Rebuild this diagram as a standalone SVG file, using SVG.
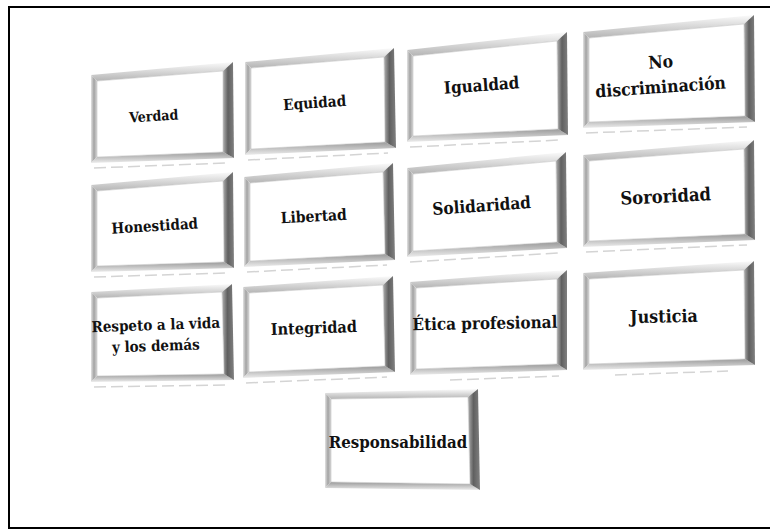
<svg xmlns="http://www.w3.org/2000/svg" width="770" height="529" viewBox="0 0 770 529">
<defs>
<linearGradient id="gTop" x1="0" y1="0" x2="0" y2="1"><stop offset="0" stop-color="#fbfbfb"/><stop offset="1" stop-color="#b4b4b4"/></linearGradient>
<linearGradient id="gLeft" x1="0" y1="0" x2="1" y2="0"><stop offset="0" stop-color="#e2e2e2"/><stop offset="0.5" stop-color="#a2a2a2"/><stop offset="1" stop-color="#d6d6d6"/></linearGradient>
<linearGradient id="gBottom" x1="0" y1="0" x2="0" y2="1"><stop offset="0" stop-color="#9a9a9a"/><stop offset="1" stop-color="#ececec"/></linearGradient>
<linearGradient id="gRight" x1="0" y1="0" x2="1" y2="0"><stop offset="0" stop-color="#b0b0b0"/><stop offset="0.45" stop-color="#606060"/><stop offset="1" stop-color="#808080"/></linearGradient>
</defs>
<style>
.t{fill:url(#gTop)}.l{fill:url(#gLeft)}.b{fill:url(#gBottom)}.r{fill:url(#gRight)}
.in{fill:#ffffff;stroke:#c4c4c4;stroke-width:0.6}
.rf{stroke:#d4d4d4;stroke-width:1.5;stroke-dasharray:12 5;fill:none}
.lbl{font-family:"DejaVu Serif Condensed","DejaVu Serif",serif;font-stretch:condensed;font-weight:bold;fill:#111;text-anchor:middle}
.frame{fill:none;stroke:#000;stroke-width:2}
</style>
<rect width="770" height="529" fill="#ffffff"/>
<path class="frame" d="M770,7 H9 V528 H770"/>
<g id="connectors"/>

<g id="n-verdad">
<polygon class="t" points="91,75 233,62 223,71 97,81"/>
<polygon class="l" points="91,75 97,81 97,157 91,163"/>
<polygon class="b" points="97,157 223,152 234,158 91,163"/>
<polygon class="r" points="223,71 233,62 234,158 223,152"/>
<polygon class="in" points="97,81 223,71 223,152 97,157"/>
<line class="rf" x1="94" y1="168" x2="226" y2="163"/>
<text class="lbl" x="154" y="121" font-size="14.1" transform="rotate(-3.5 154 121)">Verdad</text>
</g>

<g id="n-equidad">
<polygon class="t" points="245,62 394,48 384,57 251,68"/>
<polygon class="l" points="245,62 251,68 251,149 245,155"/>
<polygon class="b" points="251,149 385,142 396,148 245,155"/>
<polygon class="r" points="384,57 394,48 396,148 385,142"/>
<polygon class="in" points="251,68 384,57 385,142 251,149"/>
<line class="rf" x1="248" y1="160" x2="388" y2="153"/>
<text class="lbl" x="315" y="108" font-size="15.2" transform="rotate(-4 315 108)">Equidad</text>
</g>

<g id="n-igualdad">
<polygon class="t" points="407,50 567,32 557,41 413,56"/>
<polygon class="l" points="407,50 413,56 413,136 407,142"/>
<polygon class="b" points="413,136 558,129 568,135 407,142"/>
<polygon class="r" points="557,41 567,32 568,135 558,129"/>
<polygon class="in" points="413,56 557,41 558,129 413,136"/>
<line class="rf" x1="410" y1="147" x2="560" y2="140"/>
<text class="lbl" x="482" y="91" font-size="16.9" transform="rotate(-4 482 91)">Igualdad</text>
</g>

<g id="n-no-discriminacion">
<polygon class="t" points="583,32 754,15 744,24 589,38"/>
<polygon class="l" points="583,32 589,38 589,122 583,128"/>
<polygon class="b" points="589,122 745,116 755,122 583,128"/>
<polygon class="r" points="744,24 754,15 755,122 745,116"/>
<polygon class="in" points="589,38 744,24 745,116 589,122"/>
<line class="rf" x1="586" y1="133" x2="747" y2="127"/>
<text class="lbl" x="661" y="68" font-size="17.4" transform="rotate(-4 661 68)">No</text>
<text class="lbl" x="661" y="93" font-size="17.4" transform="rotate(-4 661 93)">discriminación</text>
</g>

<g id="n-honestidad">
<polygon class="t" points="91,185 233,172 223,181 97,191"/>
<polygon class="l" points="91,185 97,191 97,266 91,272"/>
<polygon class="b" points="97,266 224,262 234,268 91,272"/>
<polygon class="r" points="223,181 233,172 234,268 224,262"/>
<polygon class="in" points="97,191 223,181 224,262 97,266"/>
<line class="rf" x1="94" y1="277" x2="226" y2="273"/>
<text class="lbl" x="155" y="231" font-size="15" transform="rotate(-3.5 155 231)">Honestidad</text>
</g>

<g id="n-libertad">
<polygon class="t" points="244,177 393,163 383,172 250,183"/>
<polygon class="l" points="244,177 250,183 250,261 244,267"/>
<polygon class="b" points="250,261 385,254 395,260 244,267"/>
<polygon class="r" points="383,172 393,163 395,260 385,254"/>
<polygon class="in" points="250,183 383,172 385,254 250,261"/>
<line class="rf" x1="247" y1="272" x2="387" y2="265"/>
<text class="lbl" x="314" y="221.5" font-size="15.5" transform="rotate(-3 314 221.5)">Libertad</text>
</g>

<g id="n-solidaridad">
<polygon class="t" points="407,168 566,152 556,161 413,174"/>
<polygon class="l" points="407,168 413,174 413,251 407,257"/>
<polygon class="b" points="413,251 557,242 567,248 407,257"/>
<polygon class="r" points="556,161 566,152 567,248 557,242"/>
<polygon class="in" points="413,174 556,161 557,242 413,251"/>
<line class="rf" x1="410" y1="262" x2="559" y2="253"/>
<text class="lbl" x="482" y="211.5" font-size="17" transform="rotate(-4 482 211.5)">Solidaridad</text>
</g>

<g id="n-sororidad">
<polygon class="t" points="583,155 754,140 744,149 589,161"/>
<polygon class="l" points="583,155 589,161 589,241 583,247"/>
<polygon class="b" points="589,241 745,234 755,240 583,247"/>
<polygon class="r" points="744,149 754,140 755,240 745,234"/>
<polygon class="in" points="589,161 744,149 745,234 589,241"/>
<line class="rf" x1="586" y1="252" x2="747" y2="245"/>
<text class="lbl" x="666" y="202.5" font-size="18.2" transform="rotate(-3 666 202.5)">Sororidad</text>
</g>

<g id="n-respeto">
<polygon class="t" points="91,292 232,284 222,292 97,298"/>
<polygon class="l" points="91,292 97,298 97,376 91,382"/>
<polygon class="b" points="97,376 224,374 234,380 91,382"/>
<polygon class="r" points="222,292 232,284 234,380 224,374"/>
<polygon class="in" points="97,298 222,292 224,374 97,376"/>
<line class="rf" x1="94" y1="387" x2="226" y2="385"/>
<text class="lbl" x="156" y="330" font-size="15" transform="rotate(-2 156 330)">Respeto a la vida</text>
<text class="lbl" x="156" y="351" font-size="15" transform="rotate(-2 156 351)">y los demás</text>
</g>

<g id="n-integridad">
<polygon class="t" points="243,287 393,276 383,285 249,293"/>
<polygon class="l" points="243,287 249,293 249,372 243,378"/>
<polygon class="b" points="249,372 385,366 395,372 243,378"/>
<polygon class="r" points="383,285 393,276 395,372 385,366"/>
<polygon class="in" points="249,293 383,285 385,366 249,372"/>
<line class="rf" x1="246" y1="383" x2="387" y2="377"/>
<text class="lbl" x="314" y="333.5" font-size="16.1" transform="rotate(-2 314 333.5)">Integridad</text>
</g>

<g id="n-etica">
<polygon class="t" points="410,282 567,270 557,279 416,288"/>
<polygon class="l" points="410,282 416,288 416,369 410,375"/>
<polygon class="b" points="416,369 557,364 567,370 410,375"/>
<polygon class="r" points="557,279 567,270 567,370 557,364"/>
<polygon class="in" points="416,288 557,279 557,364 416,369"/>
<line class="rf" x1="450" y1="380" x2="559" y2="376"/>
<text class="lbl" x="485" y="329" font-size="16.9" transform="rotate(-1 485 329)">Ética profesional</text>
</g>

<g id="n-justicia">
<polygon class="t" points="583,273 754,261 744,270 589,279"/>
<polygon class="l" points="583,273 589,279 589,364 583,370"/>
<polygon class="b" points="589,364 745,359 755,365 583,370"/>
<polygon class="r" points="744,270 754,261 755,365 745,359"/>
<polygon class="in" points="589,279 744,270 745,359 589,364"/>
<line class="rf" x1="615" y1="375" x2="728" y2="371"/>
<text class="lbl" x="664" y="322.5" font-size="17.8" transform="rotate(-1 664 322.5)">Justicia</text>
</g>

<g id="n-responsabilidad">
<polygon class="t" points="325,393 478,389 468,397 331,399"/>
<polygon class="l" points="325,393 331,399 331,482 325,488"/>
<polygon class="b" points="331,482 470,484 480,490 325,488"/>
<polygon class="r" points="468,397 478,389 480,490 470,484"/>
<polygon class="in" points="331,399 468,397 470,484 331,482"/>
<text class="lbl" x="398" y="448" font-size="16.7">Responsabilidad</text>
</g>
</svg>
